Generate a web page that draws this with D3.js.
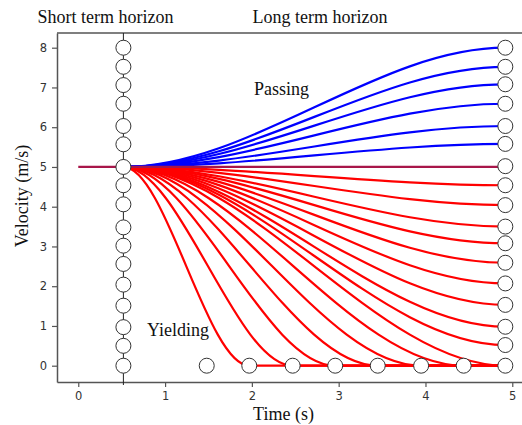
<!DOCTYPE html>
<html>
<head>
<meta charset="utf-8">
<script src="https://cdn.jsdelivr.net/npm/d3@7"></script>
<style>
  body { margin: 0; background: #fff; }
  .tick text { font-family: "DejaVu Sans", sans-serif; font-size: 11.5px; fill: #333; }
  .label { font-family: "Liberation Serif", "Times New Roman", serif; font-size: 18px; fill: #111; }
</style>
</head>
<body>
<svg id="chart"></svg>
<script>
// time where the short term horizon ends / long term horizon ends
const tShort = 0.52;
const tLong = 4.92;
const vNow = 5;

// short term horizon candidate velocities (circles on the vertical line)
const shortTermVelocities = [8, 7.52, 7.06, 6.59, 6.03, 5.57, 5, 4.54, 4.06, 3.48, 3.02, 2.56, 2.04, 1.51, 0.97, 0.5, 0];

// long term horizon end velocities at t = tLong
const passingEndVelocities = [8, 7.52, 7.08, 6.59, 6.03, 5.58];
const yieldingEndVelocities = [4.54, 4.04, 3.5, 3.08, 2.59, 2.07, 1.53, 0.98, 0.52, 0];
const longTermVelocities = [8, 7.52, 7.08, 6.59, 6.03, 5.58, 5.02, 4.54, 4.04, 3.5, 3.08, 2.59, 2.07, 1.53, 0.98, 0.52, 0];

// yielding trajectories that come to a full stop before tLong
const stopTimes = [1.97, 2.47, 2.96, 3.45, 3.95, 4.44];
const stopCircleTimes = [1.48, 1.97, 2.47, 2.96, 3.45, 3.95, 4.44];

const xTicks = [0, 1, 2, 3, 4, 5];
const yTicks = [0, 1, 2, 3, 4, 5, 6, 7, 8];

const config = {
    width: 522,
    height: 425,
    margin: {top: 33, right: 0, bottom: 43, left: 57}
};

const svg = d3.select("#chart")
    .attr("width", config.width)
    .attr("height", config.height);

const x = d3.scaleLinear()
    .domain([-0.245, 5.112])
    .range([config.margin.left, config.width - config.margin.right]);

const y = d3.scaleLinear()
    .domain([-0.41, 8.37])
    .range([config.height - config.margin.bottom, config.margin.top]);

// axes
const xAxis = d3.axisBottom(x).tickValues(xTicks).tickFormat(d3.format("d"))
    .tickSize(5).tickPadding(5).tickSizeOuter(0);
const yAxis = d3.axisLeft(y).tickValues(yTicks).tickFormat(d3.format("d"))
    .tickSize(5).tickPadding(5).tickSizeOuter(0);

const xAxisG = svg.append("g")
    .attr("transform", `translate(0,${y.range()[0]})`)
    .call(xAxis);
const yAxisG = svg.append("g")
    .attr("transform", `translate(${x.range()[0]},0)`)
    .call(yAxis);

[xAxisG, yAxisG].forEach(g => {
    g.select(".domain").attr("stroke", "#555").attr("stroke-width", 1.5);
    g.selectAll(".tick line").attr("stroke", "#555").attr("stroke-width", 1.2);
});

// top spine
svg.append("line")
    .attr("x1", x.range()[0]).attr("x2", x.range()[1])
    .attr("y1", y.range()[1]).attr("y2", y.range()[1])
    .attr("stroke", "#555").attr("stroke-width", 1.5);

// smooth trajectory: cubic bezier with flat tangents at both ends
function trajectory(t0, v0, t1, v1, tEndFlat) {
    const p = d3.path();
    const dt = (t1 - t0) / 3;
    p.moveTo(x(t0), y(v0));
    p.bezierCurveTo(x(t0 + dt), y(v0), x(t1 - dt), y(v1), x(t1), y(v1));
    if (tEndFlat !== undefined) p.lineTo(x(tEndFlat), y(v1));
    return p.toString();
}

const lines = svg.append("g").attr("fill", "none").attr("stroke-width", 2.2);

// short term vertical line
svg.append("line")
    .attr("x1", x(tShort)).attr("x2", x(tShort))
    .attr("y1", y.range()[1]).attr("y2", y.range()[0] + 3)
    .attr("stroke", "#222").attr("stroke-width", 1);

// yielding trajectories (red)
lines.selectAll(".yield")
    .data(yieldingEndVelocities)
    .join("path")
    .attr("class", "yield")
    .attr("stroke", "#ff0000")
    .attr("d", v => trajectory(tShort, vNow, tLong, v));

lines.selectAll(".stop")
    .data(stopTimes)
    .join("path")
    .attr("class", "stop")
    .attr("stroke", "#ff0000")
    .attr("d", t => trajectory(tShort, vNow, t, 0, tLong));

// passing trajectories (blue)
lines.selectAll(".pass")
    .data(passingEndVelocities)
    .join("path")
    .attr("class", "pass")
    .attr("stroke", "#0000ff")
    .attr("d", v => trajectory(tShort, vNow, tLong, v));

// current velocity held constant
lines.append("path")
    .attr("stroke", "#a8164a")
    .attr("d", d3.line().x(d => x(d[0])).y(d => y(d[1]))([[0, vNow], [tLong, vNow]]));

// circles
const circles = svg.append("g")
    .attr("fill", "#fff").attr("stroke", "#333").attr("stroke-width", 1);

circles.selectAll(".short")
    .data(shortTermVelocities)
    .join("circle")
    .attr("class", "short")
    .attr("cx", x(tShort)).attr("cy", v => y(v)).attr("r", 7.5);

circles.selectAll(".long")
    .data(longTermVelocities)
    .join("circle")
    .attr("class", "long")
    .attr("cx", x(tLong)).attr("cy", v => y(v)).attr("r", 7.5);

circles.selectAll(".stopc")
    .data(stopCircleTimes)
    .join("circle")
    .attr("class", "stopc")
    .attr("cx", t => x(t)).attr("cy", y(0)).attr("r", 7.5);

// labels
svg.append("text").attr("class", "label")
    .attr("x", 105.5).attr("y", 23).attr("text-anchor", "middle")
    .text("Short term horizon");
svg.append("text").attr("class", "label")
    .attr("x", 320).attr("y", 23).attr("text-anchor", "middle")
    .text("Long term horizon");
svg.append("text").attr("class", "label")
    .attr("x", 254).attr("y", 95)
    .text("Passing");
svg.append("text").attr("class", "label")
    .attr("x", 147).attr("y", 336)
    .text("Yielding");
svg.append("text").attr("class", "label")
    .attr("x", 283.5).attr("y", 419.5).attr("text-anchor", "middle")
    .text("Time (s)");
svg.append("text").attr("class", "label")
    .attr("transform", "translate(28,196) rotate(-90)")
    .attr("text-anchor", "middle")
    .text("Velocity (m/s)");
</script>
</body>
</html>
